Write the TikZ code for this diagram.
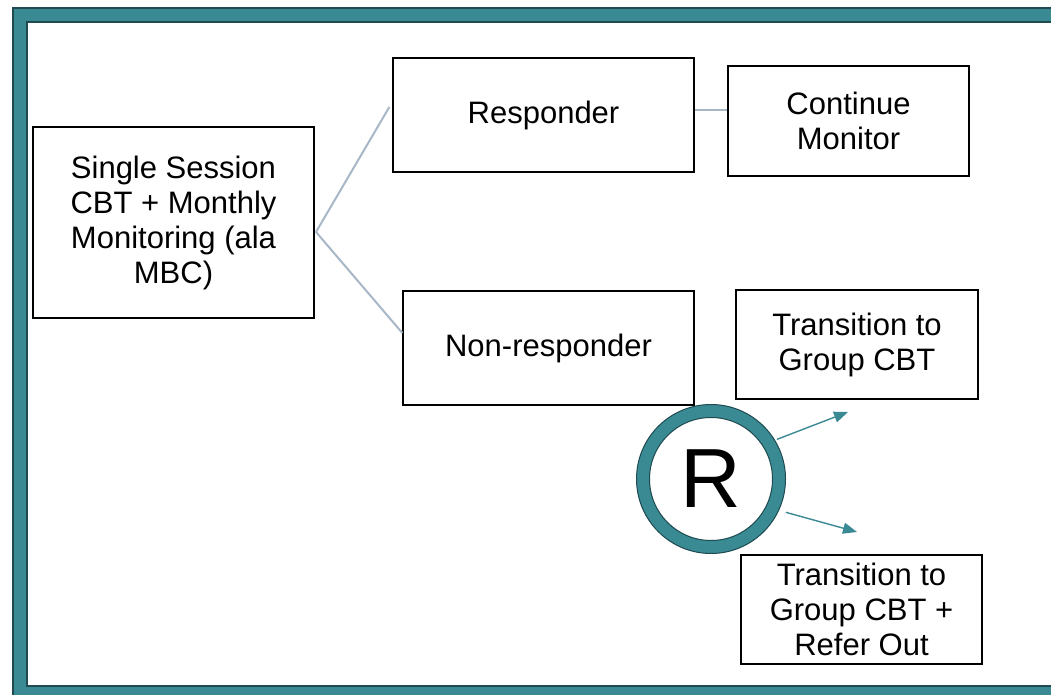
\documentclass[tikz,border=0pt]{standalone}
\usepackage{fontspec}
\setmainfont{Liberation Sans}
\usetikzlibrary{arrows.meta,calc}
\definecolor{frameteal}{HTML}{3A8A94}
\definecolor{framedark}{HTML}{1E4A50}
\definecolor{linkgray}{HTML}{A7B7C7}
\tikzset{
  box/.style={draw=black, line width=1.3pt, fill=white, align=center,
    inner sep=0pt, font=\fontsize{31}{35}\selectfont},
  link/.style={draw=linkgray, line width=2pt},
  randarrow/.style={draw=frameteal, line width=1.4pt,
    -{Triangle[length=14pt,width=11pt]}}
}
\begin{document}
\begin{tikzpicture}[x=1pt,y=1pt]
  \useasboundingbox (0,0) rectangle (1051,695);
  \clip (0,0) rectangle (1051,695);
  % outer teal frame
  \fill[frameteal, even odd rule] (13,-20) rectangle (1080,687) (27,9) rectangle (1070,673);
  \draw[framedark, line width=1.3pt] (13,-20) rectangle (1080,687);
  \draw[framedark, line width=1.3pt] (27,9) rectangle (1070,673);

  % connectors behind the boxes
  \coordinate (fork) at (316,463);

  % boxes
  \node[box, minimum width=281pt, minimum height=191pt] (main) at (173.5,472.5)
    {Single Session\\CBT + Monthly\\Monitoring (ala\\MBC)};
  \node[box, minimum width=301pt, minimum height=114pt] (resp) at (543.5,580)
    {Responder};
  \node[box, minimum width=241pt, minimum height=110pt] (cont) at (848.5,574)
    {Continue\\Monitor};
  \node[box, minimum width=291pt, minimum height=114pt] (nonr) at (548.5,347)
    {Non-responder};
  \node[box, minimum width=242pt, minimum height=109pt] (trans1) at (857,350.5)
    {Transition to\\Group CBT};
  \node[box, minimum width=241pt, minimum height=109pt] (trans2) at (861.5,85.5)
    {Transition to\\Group CBT +\\Refer Out};

  \draw[link] (fork) -- ($(resp.west)+(-3,8)$);
  \draw[link] (fork) -- ($(nonr.west)+(0,15)$);
  \draw[link] (resp.east |- 0,585) -- (cont.west |- 0,585);

  % randomisation ring
  \node[circle, minimum size=123pt, inner sep=0pt, fill=white,
    font=\fontsize{84}{84}\selectfont] (R) at (711,216) {R};
  \draw[frameteal, line width=13pt] (R.center) circle (68);
  \draw[framedark, line width=1pt] (R.center) circle (74.5);
  \draw[framedark, line width=1pt] (R.center) circle (61.5);

  \coordinate (up) at (848,283);
  \coordinate (down) at (857,163);
  \draw[randarrow] ($(R.center)+(31:77)$) -- (up);
  \draw[randarrow] ($(R.center)+(-24:82)$) -- (down);
\end{tikzpicture}
\end{document}
